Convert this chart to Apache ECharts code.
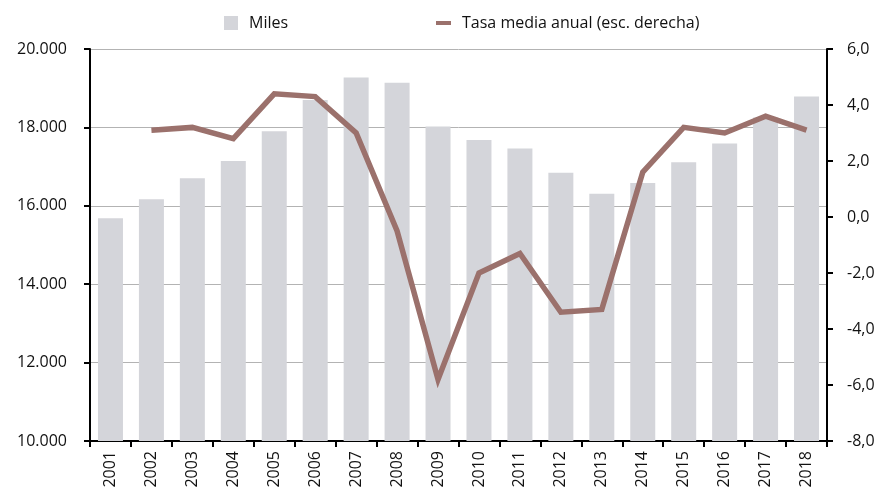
<!DOCTYPE html>
<html>
<head>
<meta charset="utf-8">
<script src="https://cdn.jsdelivr.net/npm/echarts@6/dist/echarts.min.js"></script>
<style>
  html, body { margin: 0; padding: 0; background: #ffffff; }
  #chart { width: 882px; height: 494px; }
</style>
</head>
<body>
<div id="chart"></div>
<script>
// Años
const years = ['2001','2002','2003','2004','2005','2006','2007','2008','2009',
               '2010','2011','2012','2013','2014','2015','2016','2017','2018'];

// Miles (eje izquierdo)
const miles = [15680, 16170, 16700, 17140, 17900, 18700, 19270, 19140, 18020,
               17680, 17460, 16840, 16310, 16580, 17110, 17590, 18250, 18790];

// Tasa media anual, % (eje derecho)
const tasa = [null, 3.1, 3.2, 2.8, 4.4, 4.3, 3.0, -0.5, -5.8,
              -2.0, -1.3, -3.4, -3.3, 1.6, 3.2, 3.0, 3.6, 3.1];

const barName = 'Miles';
const lineName = 'Tasa media anual (esc. derecha)';

const FONT = 'Open Sans';
const TXT = '#111111';
const BAR_COLOR = '#d4d5da';
const LINE_COLOR = '#9b716c';

const fmtMiles = v => {
  const s = Math.round(v).toString();
  return s.replace(/\B(?=(\d{3})+(?!\d))/g, '.');
};
const fmtTasa = v => v.toFixed(1).replace('.', ',');

const chart = echarts.init(document.getElementById('chart'), null, { renderer: 'canvas' });

chart.setOption({
  animation: false,
  backgroundColor: '#ffffff',
  textStyle: { fontFamily: FONT },
  grid: { left: 90, right: 55, top: 49, bottom: 53, containLabel: false },
  legend: [
    {
      left: 219, top: 10,
      data: [{ name: barName, icon: 'rect' }],
      itemWidth: 14, itemHeight: 14,
      textStyle: { fontFamily: FONT, fontSize: 16, color: TXT, padding: [0, 0, 0, 6] }
    },
    {
      left: 431, top: 10,
      data: [{ name: lineName, icon: 'rect' }],
      itemWidth: 15, itemHeight: 4,
      textStyle: { fontFamily: FONT, fontSize: 16, color: TXT, padding: [0, 0, 0, 6] }
    }
  ],
  xAxis: {
    type: 'category',
    data: years,
    boundaryGap: true,
    axisLine: { show: true, onZero: false, lineStyle: { color: '#000000', width: 2 } },
    axisTick: { show: true, alignWithLabel: false, length: 6, lineStyle: { color: '#000000', width: 2 } },
    axisLabel: {
      rotate: 90, interval: 0, margin: 10,
      fontFamily: FONT, fontSize: 16, color: TXT
    },
    splitLine: { show: false }
  },
  yAxis: [
    {
      type: 'value',
      min: 10000, max: 20000, interval: 2000,
      position: 'left',
      axisLine: { show: true, lineStyle: { color: '#000000', width: 2 } },
      axisTick: { show: true, length: 6, lineStyle: { color: '#000000', width: 2 } },
      axisLabel: { margin: 23, fontFamily: FONT, fontSize: 16, color: TXT, formatter: fmtMiles },
      splitLine: { show: true, lineStyle: { color: '#b3b3b3', width: 1 } }
    },
    {
      type: 'value',
      min: -8, max: 6, interval: 2,
      position: 'right',
      axisLine: { show: true, lineStyle: { color: '#000000', width: 2 } },
      axisTick: { show: true, length: 6, lineStyle: { color: '#000000', width: 2 } },
      axisLabel: { margin: 20, fontFamily: FONT, fontSize: 16, color: TXT, formatter: fmtTasa },
      splitLine: { show: false }
    }
  ],
  series: [
    {
      name: barName,
      type: 'bar',
      yAxisIndex: 0,
      data: miles,
      barWidth: 25,
      itemStyle: { color: BAR_COLOR },
      z: 1
    },
    {
      name: lineName,
      type: 'line',
      yAxisIndex: 1,
      data: tasa,
      connectNulls: false,
      symbol: 'none',
      smooth: false,
      lineStyle: { color: LINE_COLOR, width: 5.5, join: 'miter' },
      itemStyle: { color: LINE_COLOR },
      z: 3
    }
  ]
});
</script>
</body>
</html>
